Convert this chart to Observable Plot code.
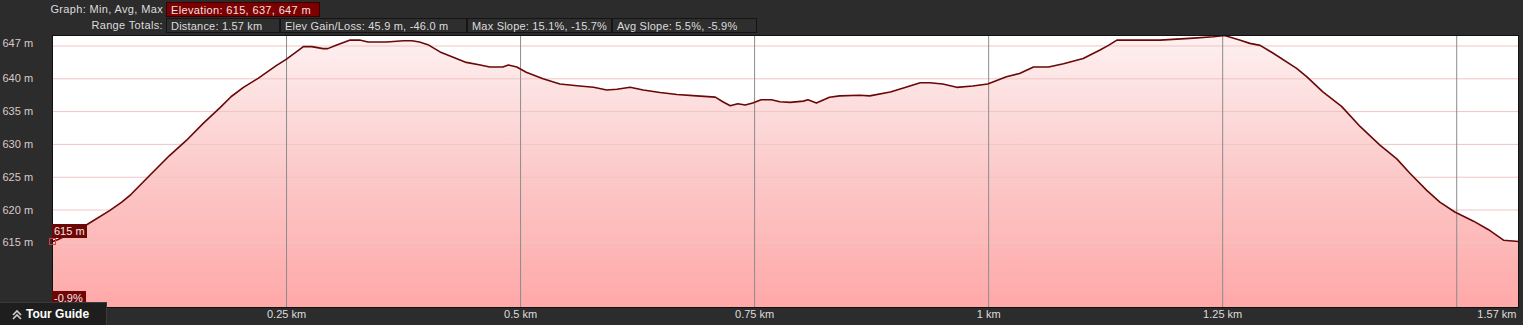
<!DOCTYPE html>
<html>
<head>
<meta charset="utf-8">
<script src="https://cdn.jsdelivr.net/npm/d3@7"></script>
<script src="https://cdn.jsdelivr.net/npm/@observablehq/plot@0.6"></script>
<style>
  html, body { margin: 0; padding: 0; background: #2c2c2c; }
  #wrap { position: relative; width: 1523px; height: 325px; overflow: hidden; background: #2c2c2c;
          font-family: "Liberation Sans", Arial, sans-serif; font-size: 11px; color: #dcdcdc; }
  #chart { position: absolute; left: 0; top: 0; }
  .hdr { position: absolute; height: 15px; line-height: 15px; white-space: nowrap; letter-spacing: 0.2px; }
  .lbl { text-align: right; width: 163px; left: 0; letter-spacing: 0.35px; }
  .box { box-sizing: border-box; border: 1px solid #151515; padding-left: 4px; background: #2e2e2e; }
  .red { background: #7d0000; border-color: #3a0000; color: #f0e0e0; letter-spacing: 0.35px; }
  .tag { position: absolute; background: #6e0606; color: #f4e6e6; height: 14px; line-height: 14px; padding: 0 2px; box-sizing: border-box; }
  #tour { position: absolute; left: 0; top: 302px; width: 107px; height: 23px; background: #1e1e1e; border-top: 1px solid #3a3a3a; border-right: 1px solid #3a3a3a; box-sizing: border-box;
          color: #fff; font-weight: bold; font-size: 12px; line-height: 22px; }
</style>
</head>
<body>
<div id="wrap">
  <div id="chart"></div>
  <div class="hdr lbl" style="top:2px">Graph: Min, Avg, Max</div>
  <div class="hdr box red" style="top:2px;left:166px;width:154px">Elevation: 615, 637, 647 m</div>
  <div class="hdr lbl" style="top:18px">Range Totals:</div>
  <div class="hdr box" style="top:18px;left:166px;width:114px">Distance: 1.57 km</div>
  <div class="hdr box" style="top:18px;left:280px;width:187px">Elev Gain/Loss: 45.9 m, -46.0 m</div>
  <div class="hdr box" style="top:18px;left:467px;width:145px">Max Slope: 15.1%, -15.7%</div>
  <div class="hdr box" style="top:18px;left:612px;width:145px">Avg Slope: 5.5%, -5.9%</div>
  <div class="tag" style="left:52px;top:224px;width:35px">615 m</div>
  <div style="position:absolute;left:49px;top:238px;width:5px;height:5px;border:1px solid #e03a3a;"></div>
  <div class="tag" style="left:52px;top:291px;width:34px">-0.9%</div>
  <div id="tour"><svg width="14" height="12" style="position:absolute;left:11px;top:6px"><polyline points="2,6 6,2 10,6" fill="none" stroke="#cfcfcf" stroke-width="1.6"/><polyline points="2,10 6,6 10,10" fill="none" stroke="#cfcfcf" stroke-width="1.6"/></svg><span style="position:absolute;left:26px;top:0">Tour Guide</span></div>
</div>
<script>
const distKm = [0, 0.006, 0.02, 0.037, 0.061, 0.074, 0.084, 0.104, 0.125, 0.143, 0.161, 0.179, 0.191, 0.204, 0.220, 0.239, 0.25, 0.268, 0.277, 0.289, 0.294, 0.303, 0.318, 0.328, 0.337, 0.357, 0.375, 0.384, 0.392, 0.401, 0.414, 0.428, 0.442, 0.457, 0.467, 0.481, 0.487, 0.496, 0.506, 0.524, 0.542, 0.563, 0.578, 0.592, 0.603, 0.617, 0.631, 0.649, 0.667, 0.688, 0.708, 0.716, 0.724, 0.732, 0.740, 0.748, 0.757, 0.768, 0.777, 0.788, 0.802, 0.807, 0.816, 0.830, 0.841, 0.862, 0.873, 0.895, 0.909, 0.927, 0.937, 0.951, 0.966, 0.983, 0.999, 1.019, 1.033, 1.048, 1.064, 1.080, 1.101, 1.119, 1.128, 1.137, 1.162, 1.183, 1.219, 1.240, 1.252, 1.268, 1.279, 1.290, 1.304, 1.329, 1.340, 1.357, 1.377, 1.397, 1.418, 1.436, 1.450, 1.468, 1.482, 1.498, 1.518, 1.534, 1.550, 1.566];
const elevM = [615.2, 615.5, 616.5, 617.8, 619.9, 621.2, 622.4, 625.3, 628.3, 630.6, 633.2, 635.6, 637.3, 638.7, 640.1, 642.0, 643.0, 644.9, 644.9, 644.6, 644.6, 645.1, 645.9, 645.9, 645.6, 645.6, 645.8, 645.8, 645.6, 645.2, 644.1, 643.3, 642.5, 642.1, 641.8, 641.8, 642.1, 641.8, 641.0, 640.0, 639.2, 638.9, 638.7, 638.3, 638.4, 638.7, 638.3, 637.9, 637.6, 637.4, 637.2, 636.5, 635.9, 636.2, 636.0, 636.3, 636.8, 636.8, 636.5, 636.4, 636.6, 636.8, 636.3, 637.2, 637.4, 637.5, 637.4, 638.0, 638.6, 639.4, 639.4, 639.2, 638.7, 638.9, 639.2, 640.3, 640.8, 641.8, 641.8, 642.3, 643.1, 644.4, 645.1, 645.9, 645.9, 645.9, 646.2, 646.4, 646.6, 645.9, 645.4, 645.1, 643.9, 641.6, 640.3, 638.0, 635.8, 632.7, 629.9, 627.8, 625.6, 623.0, 621.2, 619.7, 618.3, 617.0, 615.4, 615.2];

const yTicks = [615, 620, 625, 630, 635, 640, 645];
const yTickLabels = ["615 m", "620 m", "625 m", "630 m", "635 m", "640 m", "647 m"];
const xTicks = [0.25, 0.5, 0.75, 1, 1.25, 1.5];
const xTickLabels = ["0.25 km", "0.5 km", "0.75 km", "1 km", "1.25 km", ""];
const xEndLabel = "1.57 km";
const xDomain = [0, 1.566];
const yDomain = [605.14, 646.6];

const profile = distKm.map((d, i) => ({d, e: elevM[i]}));
const yTickData = yTicks.map((v, i) => ({v, t: yTickLabels[i]}));
const xTickData = xTicks.map((v, i) => ({v, t: xTickLabels[i]}));

const gradientDefs = () => {
  const ns = "http://www.w3.org/2000/svg";
  const g = document.createElementNS(ns, "g");
  g.innerHTML = `<defs><linearGradient id="elevGrad" gradientUnits="userSpaceOnUse" x1="0" y1="35" x2="0" y2="307">
    <stop offset="0" stop-color="#fef1f1"/><stop offset="0.5" stop-color="#fccaca"/><stop offset="1" stop-color="#ffa8a8"/></linearGradient></defs>`;
  return g;
};

const chart = Plot.plot({
  width: 1523,
  height: 325,
  marginLeft: 52,
  marginRight: 5,
  marginTop: 35,
  marginBottom: 18,
  style: {background: "#2c2c2c", fontFamily: "'Liberation Sans', Arial, sans-serif", fontSize: "11px"},
  x: {domain: xDomain, axis: null},
  y: {domain: yDomain, axis: null},
  marks: [
    gradientDefs,
    Plot.frame({fill: "#ffffff", stroke: null}),
    Plot.areaY(profile, {x: "d", y1: yDomain[0], y2: "e", fill: "url(#elevGrad)", curve: "linear"}),
    Plot.ruleY(yTicks, {stroke: "#efc4c4", strokeWidth: 1}),
    Plot.ruleX(xTicks, {stroke: "#8c8c8c", strokeWidth: 1}),
    Plot.line(profile, {x: "d", y: "e", stroke: "#6a0808", strokeWidth: 1.6, curve: "linear"}),
    Plot.frame({stroke: "#111111", strokeWidth: 1}),
    Plot.text(yTickData.filter(d => d.v !== 645), {y: "v", text: "t", frameAnchor: "left", dx: -50, textAnchor: "start", fill: "#dcc8c8"}),
    Plot.text(yTickData.filter(d => d.v === 645), {y: "v", text: "t", frameAnchor: "left", dx: -50, dy: -3, textAnchor: "start", fill: "#dcc8c8"}),
    Plot.text(xTickData, {x: "v", text: "t", frameAnchor: "bottom", dy: 10, fill: "#dddddd"}),
    Plot.text([xEndLabel], {x: xDomain[1], text: d => d, frameAnchor: "bottom", dy: 10, dx: -2, textAnchor: "end", fill: "#dddddd"})
  ]
});
document.getElementById("chart").appendChild(chart);
</script>
</body>
</html>
